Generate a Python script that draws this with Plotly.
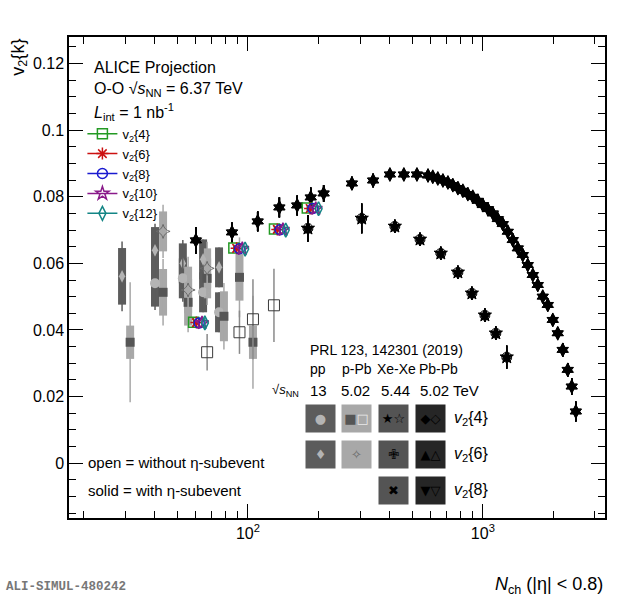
import plotly.graph_objects as go

FONT = "Liberation Sans, Arial, sans-serif"

# ---- O-O projection, v2{k} vs Nch ----
oo_nch = [62, 92, 137, 189]
oo_v2_4 = [0.0423, 0.0646, 0.0703, 0.0766]
oo_v2_6 = [0.0422, 0.0645, 0.0702, 0.0765]
oo_v2_8 = [0.0421, 0.0644, 0.0701, 0.0765]
oo_v2_10 = [0.0421, 0.0644, 0.0701, 0.0764]
oo_v2_12 = [0.0421, 0.0643, 0.0700, 0.0764]
oo_err = [0.0015, 0.0010, 0.0010, 0.0010]

# ---- pp 13 TeV (PRL 123, 142301) ----
pp_nch_4 = [40.2, 52.8, 64.4, 75.3]
pp_v2_4 = [0.0540, 0.0555, 0.0513, 0.0453]
pp_stat_4 = [0.008, 0.007, 0.006, 0.006]
pp_syst_4 = [0.007, 0.006, 0.006, 0.006]

pp_nch_6 = [29.1, 40.2, 52.8, 64.4, 75.3]
pp_v2_6 = [0.0561, 0.0639, 0.0600, 0.0612, 0.0588]
pp_stat_6 = [0.0105, 0.008, 0.007, 0.006, 0.006]
pp_syst_6 = [0.0085, 0.007, 0.006, 0.006, 0.006]

# ---- p-Pb 5.02 TeV ----
ppb_nch_4 = [31.5, 43.5, 55.6, 67, 79, 92, 105]
ppb_v2_4 = [0.0363, 0.0513, 0.0483, 0.0555, 0.0441, 0.0558, 0.0363]
ppb_stat_4 = [0.018, 0.010, 0.009, 0.008, 0.010, 0.012, 0.014]
ppb_syst_4 = [0.005, 0.007, 0.007, 0.006, 0.0075, 0.007, 0.005]

ppb_nch_4open = [67, 92, 105, 129]
ppb_v2_4open = [0.0333, 0.0393, 0.0432, 0.0474]
ppb_stat_4open = [0.0055, 0.0065, 0.012, 0.011]

ppb_nch_6 = [43.5, 55.6, 67]
ppb_v2_6 = [0.0696, 0.0520, 0.0585]
ppb_stat_6 = [0.008, 0.010, 0.008]
ppb_syst_6 = [0.006, 0.007, 0.006]

# ---- Pb-Pb 5.02 TeV ----
pbpb_nch = [60, 85.5, 110, 136, 162, 185, 210, 277, 341, 402, 461, 524, 584,
            612, 643, 676, 710, 745, 783, 822, 863, 906, 952, 1000, 1050, 1103,
            1158, 1216, 1277, 1341, 1409, 1479, 1553, 1632, 1713, 1799, 1890,
            1985, 2084, 2188, 2298, 2390, 2488]
pbpb_v2 = [0.0669, 0.0693, 0.0726, 0.0768, 0.0774, 0.0798, 0.0810, 0.0840,
           0.0849, 0.0867, 0.0867, 0.0867, 0.0864, 0.0860, 0.0855, 0.0849,
           0.0843, 0.0835, 0.0826, 0.0818, 0.0808, 0.0800, 0.0788, 0.0775,
           0.0763, 0.0750, 0.0733, 0.0718, 0.0695, 0.0670, 0.0645, 0.0625,
           0.0595, 0.0565, 0.0535, 0.0500, 0.0475, 0.0430, 0.0390, 0.0340,
           0.0280, 0.0230, 0.0155]
pbpb_err = [0.004, 0.003, 0.003, 0.003, 0.003, 0.003, 0.0025, 0.002, 0.002,
            0.0015, 0.0015, 0.0015, 0.0015, 0.0015, 0.0015, 0.0015, 0.0015,
            0.0015, 0.0015, 0.0015, 0.0015, 0.0015, 0.0015, 0.0015, 0.0015,
            0.0015, 0.0015, 0.0015, 0.0015, 0.0015, 0.0015, 0.0015, 0.0015,
            0.0015, 0.0015, 0.0015, 0.0015, 0.0015, 0.0015, 0.002, 0.002,
            0.0025, 0.003]

# ---- Xe-Xe 5.44 TeV ----
xexe_nch = [180, 305, 422, 540, 662, 783, 898, 1020, 1136, 1264]
xexe_v2 = [0.0705, 0.0735, 0.0711, 0.0672, 0.0630, 0.0573, 0.0510, 0.0444,
           0.0390, 0.0318]
xexe_err = [0.004, 0.0045, 0.002, 0.002, 0.002, 0.002, 0.002, 0.002, 0.002,
            0.0035]

fig = go.Figure()


def syst_boxes(x, y, syst, color):
    # systematic uncertainty drawn as thick error bar (box)
    fig.add_trace(go.Scatter(
        x=x, y=y, mode="markers", marker=dict(opacity=0, size=1),
        error_y=dict(type="data", array=syst, thickness=8, width=0, color=color),
        showlegend=False, hoverinfo="skip"))


def points(x, y, err, symbol, color, size, line_color=None, lw=1, ecolor=None,
           ethick=1.5, name=None, legend=False):
    fig.add_trace(go.Scatter(
        x=x, y=y, mode="markers", name=name, showlegend=legend,
        marker=dict(symbol=symbol, color=color, size=size,
                    line=dict(color=line_color or color, width=lw)),
        error_y=dict(type="data", array=err, thickness=ethick, width=0,
                     color=ecolor or color)))


# pp / p-Pb boxes
PP_C = "#5c5c5c"
PPB_C = "#a8a8a8"
syst_boxes(pp_nch_6, pp_v2_6, pp_syst_6, PP_C)
syst_boxes(pp_nch_4, pp_v2_4, pp_syst_4, PP_C)
syst_boxes(ppb_nch_4, ppb_v2_4, ppb_syst_4, PPB_C)
syst_boxes(ppb_nch_6, ppb_v2_6, ppb_syst_6, PPB_C)

points(pp_nch_6, pp_v2_6, pp_stat_6, "diamond-tall", "#b4b4b4", 9, ecolor=PP_C, lw=0)
points(pp_nch_4, pp_v2_4, pp_stat_4, "circle", "#b4b4b4", 10, ecolor=PP_C, lw=0)
points(ppb_nch_4, ppb_v2_4, ppb_stat_4, "square", "#555555", 9, ecolor=PPB_C, lw=0)
points(ppb_nch_6, ppb_v2_6, ppb_stat_6, "star-diamond-open", "#6a6a6a", 10,
       ecolor=PPB_C)
points(ppb_nch_4open, ppb_v2_4open, ppb_stat_4open, "square-open", "#3a3a3a", 11,
       ecolor="#8a8a8a")

# Xe-Xe
points(xexe_nch, xexe_v2, xexe_err, "x-open", "black", 8)
points(xexe_nch, xexe_v2, xexe_err, "cross-open", "black", 8)
points(xexe_nch, xexe_v2, xexe_err, "star-open", "black", 10)
points(xexe_nch, xexe_v2, xexe_err, "star", "black", 9)

# Pb-Pb
points(pbpb_nch, pbpb_v2, pbpb_err, "diamond-tall-open", "black", 10)
points(pbpb_nch, pbpb_v2, pbpb_err, "triangle-up-open", "black", 10)
points(pbpb_nch, pbpb_v2, pbpb_err, "triangle-down-open", "black", 10)
points(pbpb_nch, pbpb_v2, pbpb_err, "diamond-tall", "black", 9)
points(pbpb_nch, pbpb_v2, pbpb_err, "triangle-up", "black", 9)
points(pbpb_nch, pbpb_v2, pbpb_err, "triangle-down", "black", 9)

# O-O projections, slightly shifted in x for visibility
oo_series = [
    ("v<sub>2</sub>{4}", oo_v2_4, "square-open", "#239a23"),
    ("v<sub>2</sub>{6}", oo_v2_6, "asterisk-open", "#cc1111"),
    ("v<sub>2</sub>{8}", oo_v2_8, "circle-open", "#1a1ad0"),
    ("v<sub>2</sub>{10}", oo_v2_10, "star-open", "#8a1a8a"),
    ("v<sub>2</sub>{12}", oo_v2_12, "diamond-tall-open", "#138585"),
]
for i, (label, vals, sym, col) in enumerate(oo_series):
    xs = [n * 1.028 ** (i - 2) for n in oo_nch]
    fig.add_trace(go.Scatter(
        x=xs, y=vals, mode="markers", showlegend=False,
        marker=dict(symbol=sym, color=col, size=10, line=dict(color=col, width=1.5)),
        error_y=dict(type="data", array=oo_err, thickness=1.5, width=0, color=col)))
    # legend entry with a line through the marker
    fig.add_trace(go.Scatter(
        x=[None], y=[None], mode="lines+markers", name=label,
        marker=dict(symbol=sym, color=col, size=10, line=dict(color=col, width=1.5)),
        line=dict(color=col, width=1.5)))

ann = []


def text(s, x, y, size=16, xanchor="left", color="black", **kw):
    ann.append(dict(text=s, x=x, y=y, xref="paper", yref="paper", showarrow=False,
                    xanchor=xanchor, yanchor="middle",
                    font=dict(family=FONT, size=size, color=color), **kw))


def px2paper(px, py):
    return (px - 69) / 536, (518 - py) / 481


# top-left header
text("ALICE Projection", *px2paper(92, 67))
text("O-O √<i>s</i><sub>NN</sub> = 6.37 TeV", *px2paper(92, 90))
text("<i>L</i><sub>int</sub> = 1 nb<sup>-1</sup>", *px2paper(92, 112))

# open / solid explanation
text("open = without η-subevent", *px2paper(86, 463), size=15)
text("solid = with η-subevent", *px2paper(86, 490), size=15)

# reference table
text("PRL 123, 142301 (2019)", *px2paper(386, 350), size=14, xanchor="center")
for lab, cx in [("pp", 318), ("p-Pb", 357), ("Xe-Xe", 396), ("Pb-Pb", 438)]:
    text(lab, *px2paper(cx, 369), size=14, xanchor="center")
text("√<i>s</i><sub>NN</sub>", *px2paper(285, 391), size=13, xanchor="center")
for lab, cx in [("13", 318), ("5.02", 355), ("5.44", 395), ("5.02", 434),
                ("TeV", 466)]:
    text(lab, *px2paper(cx, 391), size=15, xanchor="center")

cols = [320, 356, 393, 430]
rows = [419, 455, 490]
box_bg = ["#5c5c5c", "#a8a8a8", "#545454", "#262626"]
glyphs = [
    [("●", "#b4b4b4"), ("■<span style='color:#e8e8e8'>□</span>", "#555555"),
     ("★☆", "black"), ("◆◇", "black")],
    [("♦", "#b4b4b4"), ("✧", "#6a6a6a"), ("✙", "black"), ("▲△", "black")],
    [None, None, ("✖", "black"), ("▼▽", "black")],
]
for r, row in enumerate(glyphs):
    for c, g in enumerate(row):
        if g is None:
            continue
        x, y = px2paper(cols[c], rows[r])
        ann.append(dict(text=g[0], x=x, y=y, xref="paper", yref="paper",
                        showarrow=False, xanchor="center", yanchor="middle",
                        width=27, height=25, bgcolor=box_bg[c],
                        font=dict(family="DejaVu Sans", size=13, color=g[1])))
for r, k in enumerate(["4", "6", "8"]):
    text("<i>v</i><sub>2</sub>{%s}" % k, *px2paper(452, rows[r]), size=16)

# axis titles
ann.append(dict(text="v<sub>2</sub>{k}", x=-0.093, y=1.0, xref="paper", yref="paper",
                showarrow=False, textangle=-90, xanchor="center", yanchor="top",
                font=dict(family=FONT, size=18, color="black")))
ann.append(dict(text="<i>N</i><sub>ch</sub> (|η| < 0.8)", x=1.0, y=-0.14,
                xref="paper", yref="paper", showarrow=False, xanchor="right",
                yanchor="middle", font=dict(family=FONT, size=18, color="black")))
ann.append(dict(text="<b>ALI-SIMUL-480242</b>", x=-0.122, y=-0.144,
                xref="paper", yref="paper", showarrow=False, xanchor="left",
                yanchor="middle",
                font=dict(family="Liberation Mono, monospace", size=12.5,
                          color="#777777")))

axis_common = dict(showline=True, linecolor="black", linewidth=1.5, mirror="allticks",
                   ticks="inside", ticklen=14, tickwidth=1.2, tickcolor="black",
                   showgrid=False, zeroline=False,
                   tickfont=dict(family=FONT, size=16, color="black"))

fig.update_layout(
    width=620, height=597,
    margin=dict(l=69, r=15, t=37, b=79),
    paper_bgcolor="white", plot_bgcolor="white",
    font=dict(family=FONT, color="black"),
    xaxis=dict(type="log", range=[1.238, 3.52], tickvals=[100, 1000],
               ticktext=["10<sup>2</sup>", "10<sup>3</sup>"],
               minor=dict(ticks="inside", ticklen=7, tickcolor="black",
                          tickvals=[20, 30, 40, 50, 60, 70, 80, 90, 200, 300, 400,
                                    500, 600, 700, 800, 900, 2000, 3000]),
               **axis_common),
    yaxis=dict(range=[-0.0165, 0.128], tick0=0, dtick=0.02,
               minor=dict(ticks="inside", ticklen=7, tickcolor="black", dtick=0.005),
               **axis_common),
    legend=dict(x=0.025, y=0.83, xanchor="left", yanchor="top",
                bgcolor="rgba(0,0,0,0)", itemwidth=30, tracegroupgap=0,
                font=dict(family=FONT, size=13, color="black")),
    annotations=ann,
)

# the default page has an 8px body margin; drop it so the figure sits at 0,0
fig.write_html("out.html", config={"displayModeBar": False},
               post_script="document.body.style.margin='0';")
